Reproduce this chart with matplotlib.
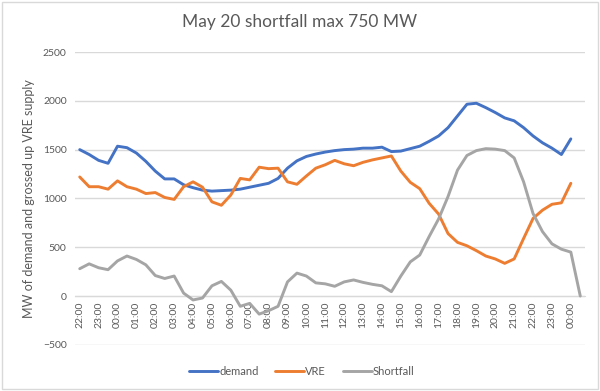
import matplotlib
matplotlib.use("Agg")
import matplotlib.pyplot as plt
from matplotlib.patches import Rectangle

plt.rcParams['font.family'] = ['Lato', 'DejaVu Sans']

title = "May 20 shortfall max 750 MW"
y_label = "MW of demand and grossed up VRE supply"

tick_labels = ["22:00", "23:00", "00:00", "01:00", "02:00", "03:00", "04:00",
               "05:00", "06:00", "07:00", "08:00", "09:00", "10:00", "11:00",
               "12:00", "13:00", "14:00", "15:00", "16:00", "17:00", "18:00",
               "19:00", "20:00", "21:00", "22:00", "23:00", "00:00"]

demand = [1500, 1450, 1390, 1360, 1535, 1520, 1465, 1380, 1280, 1200,
          1200, 1140, 1110, 1085, 1075, 1080, 1085, 1095, 1115, 1135,
          1155, 1205, 1310, 1385, 1430, 1455, 1475, 1490, 1500, 1505,
          1515, 1515, 1525, 1480, 1485, 1510, 1535, 1585, 1640, 1725,
          1845, 1965, 1975, 1930, 1880, 1825, 1795, 1725, 1640, 1570,
          1515, 1450, 1610]

vre = [1220, 1120, 1120, 1095, 1180, 1120, 1095, 1050, 1060, 1010,
       990, 1120, 1170, 1115, 965, 930, 1035, 1205, 1190, 1320,
       1305, 1310, 1170, 1145, 1230, 1310, 1345, 1390, 1355, 1335,
       1370, 1395, 1415, 1435, 1280, 1165, 1100, 950, 840, 640,
       550, 515, 465, 410, 380, 335, 380, 590, 795, 880,
       940, 955, 1155]

shortfall = [280, 330, 290, 270, 360, 410, 375, 320, 210, 180,
             205, 30, -40, -20, 105, 150, 60, -105, -75, -185,
             -150, -105, 145, 235, 205, 135, 125, 100, 145, 165,
             140, 120, 105, 45, 205, 350, 420, 610, 790, 1020,
             1290, 1440, 1490, 1510, 1505, 1490, 1415, 1170, 845, 660,
             535, 480, 450, 0]

series = [("demand", demand, "#4472C4"),
          ("VRE", vre, "#ED7D31"),
          ("Shortfall", shortfall, "#A5A5A5")]

text_col = "#595959"
grid_col = "#D9D9D9"

fig = plt.figure(figsize=(6.0, 3.91), dpi=100)
ax = fig.add_axes([0.125, 0.118, 0.85, 0.749])

for name, vals, col in series:
    ax.plot(range(len(vals)), vals, color=col, lw=2.1, label=name,
            solid_capstyle='round', solid_joinstyle='round', zorder=3)

ax.set_xlim(-0.5, 53.5)
ax.set_ylim(-500, 2500)
ax.set_yticks(range(-500, 2501, 500))
ax.yaxis.grid(True, color=grid_col, lw=1)
ax.set_axisbelow(True)
for s in ['top', 'right', 'left']:
    ax.spines[s].set_visible(False)
ax.spines['bottom'].set_position(('data', 0))
ax.spines['bottom'].set_color(grid_col)
ax.set_xticks(range(0, 2 * len(tick_labels), 2))
ax.set_xticklabels(tick_labels, rotation=90, fontsize=7.5, color=text_col)
ax.tick_params(axis='x', length=0, pad=4)
ax.tick_params(axis='y', length=0, labelsize=7.5, labelcolor=text_col, pad=6)

ax.set_ylabel(y_label, fontsize=9, color=text_col, labelpad=6)
fig.text(0.5, 0.945, title, ha='center', va='center', fontsize=12.5, color=text_col)

leg = fig.legend(loc='center', bbox_to_anchor=(0.503, 0.049), ncol=3,
                 frameon=False, fontsize=8, handlelength=2.6,
                 handletextpad=0.1, columnspacing=1.5)
for t in leg.get_texts():
    t.set_color(text_col)

fig.patches.append(Rectangle((0.003, 0.004), 0.994, 0.99, transform=fig.transFigure,
                             fill=False, edgecolor=grid_col, lw=1))

fig.savefig("out.png", dpi=100, facecolor='white')
